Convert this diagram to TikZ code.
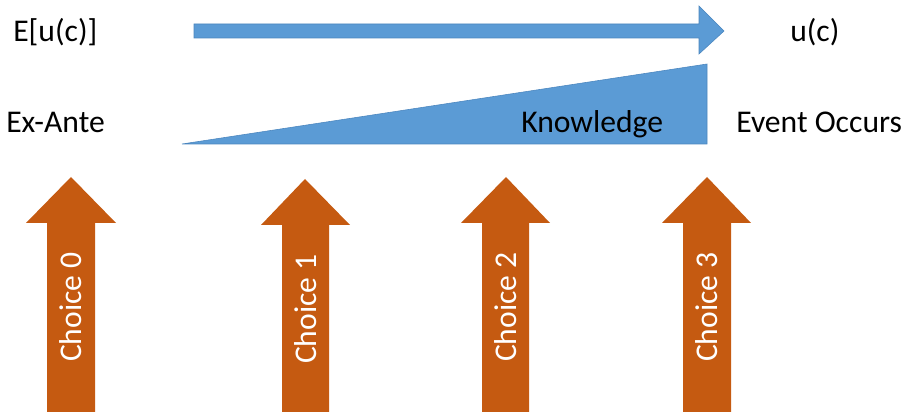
\documentclass[tikz,border=0pt]{standalone}
\usepackage{fontspec}
\setmainfont{Carlito}
\usepackage{tikz}
\usetikzlibrary{arrows}

\definecolor{knowblue}{HTML}{5B9BD5}
\definecolor{knowedge}{HTML}{4A85BE}
\definecolor{choiceorange}{HTML}{C55A11}

\begin{document}
\begin{tikzpicture}[x=0.025cm,y=-0.025cm,line join=miter]
\tikzstyle{txt}=[inner sep=0pt,text=black]
\tikzstyle{bluebox}=[fill=knowblue,draw=knowedge,line width=0.4pt]
\tikzstyle{choicearrow}=[fill=choiceorange]
\tikzstyle{choicetext}=[inner sep=0pt,text=white,rotate=90]
\tikzset{font=\fontsize{22.5pt}{27pt}\selectfont}

  \useasboundingbox (0,0) rectangle (906,412);
  \clip (0,0) rectangle (906,412);

        % top row
        \node[txt,anchor=base west]        (eu)     at (13,42)   {E[u(c)]};
        \node[txt,anchor=base west]        (uc)     at (790,42)  {u(c)};
        \draw[bluebox] (194,24) -- (699,24) -- (699,6) -- (724,31) -- (699,54) -- (699,38) -- (194,38) -- cycle;

        % knowledge wedge
        \draw[bluebox] (182,144) -- (707,64) -- (707,144) -- cycle;
        \node[txt,anchor=base west]        (exante) at (6,133)   {Ex-Ante};
        \node[txt,anchor=base west]        (know)   at (521,133) {Knowledge};
        \node[txt,anchor=base west]        (event)  at (736,133) {Event Occurs};

        % choices
        \fill[choicearrow] (47,413) -- (47,223) -- (26,223) -- (71,177) -- (116,223) -- (95,223) -- (95,413) -- cycle;
        \node[choicetext]                  (c0)     at (71,307)  {Choice 0};

        \fill[choicearrow] (282,413) -- (282,225) -- (261,225) -- (305,179) -- (350,225) -- (329,225) -- (329,413) -- cycle;
        \node[choicetext]                  (c1)     at (306,309) {Choice 1};

        \fill[choicearrow] (482,413) -- (482,223) -- (461,223) -- (506,177) -- (550,223) -- (529,223) -- (529,413) -- cycle;
        \node[choicetext]                  (c2)     at (506,307) {Choice 2};

        \fill[choicearrow] (683,413) -- (683,223) -- (662,223) -- (707,177) -- (751,223) -- (731,223) -- (731,413) -- cycle;
        \node[choicetext]                  (c3)     at (707,307) {Choice 3};

\end{tikzpicture}
\end{document}
